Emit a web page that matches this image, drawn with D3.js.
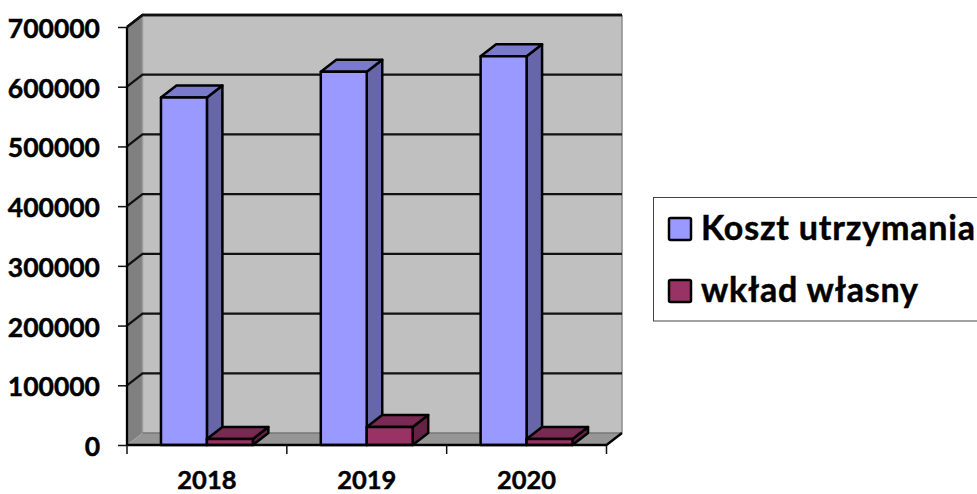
<!DOCTYPE html>
<html><head><meta charset="utf-8">
<script src="https://cdn.jsdelivr.net/npm/d3@7/dist/d3.min.js"></script>
<style>html,body{margin:0;padding:0;background:#fff;overflow:hidden}svg{display:block}text{font-family:Lato,"Open Sans",sans-serif;font-weight:700;fill:#000;stroke:#000;stroke-width:.45px}</style>
</head><body><svg id="c" width="977" height="494"></svg>
<script>
const years = ["2018", "2019", "2020"];
const seriesNames = ["Koszt utrzymania", "wkład własny"];
const koszt = [582000, 625000, 651000];
const wklad = [10000, 30000, 10000];
const yTicks = [0, 100000, 200000, 300000, 400000, 500000, 600000, 700000];
const frontColors = ["#9999FF", "#993366"];
const topColors = ["#7A7ACC", "#7A2952"];
const sideColors = ["#6666A8", "#662244"];

const svg = d3.select("#c");
const L = 127, R = 606.5, B = 445, T = 27, dx = 15.5, dy = -12, bdx = 15.5, bdy = -12;
const y = d3.scaleLinear().domain([0, 700000]).range([B, T]);
const x0 = d3.scaleBand().domain(years).range([L, R]).paddingInner(0.425).paddingOuter(0.2125);
const x1 = d3.scaleBand().domain([0, 1]).range([0, x0.bandwidth()]);
const poly = pts => pts.map(p => p.join(",")).join(" ");

// walls
const g = svg.append("g");
g.append("polygon").attr("points", poly([[L + dx, T + dy], [R + dx, T + dy], [R + dx, B + dy], [L + dx, B + dy]])).attr("fill", "#C0C0C0");
g.append("polygon").attr("points", poly([[L, T], [L + dx, T + dy], [L + dx, B + dy], [L, B]])).attr("fill", "#808080");
g.append("polygon").attr("points", poly([[L, B], [L + dx, B + dy], [R + dx, B + dy], [R, B]])).attr("fill", "#969696");
g.append("line").attr("x1", L + dx).attr("x2", L + dx).attr("y1", T + dy).attr("y2", B + dy).attr("stroke", "#9a9a9a").attr("stroke-width", 1.5);
g.append("line").attr("x1", R + dx).attr("x2", R + dx).attr("y1", T + dy).attr("y2", B + dy).attr("stroke", "#8c8c8c").attr("stroke-width", 1.5);
g.append("line").attr("x1", L + dx).attr("x2", R + dx).attr("y1", B + dy).attr("y2", B + dy).attr("stroke", "#777").attr("stroke-width", 1.5);

// gridlines
yTicks.filter(d => d > 0).forEach(t => {
  g.append("polyline").attr("fill", "none").attr("stroke", "#111").attr("stroke-width", 2.3)
    .attr("points", poly([[L, y(t)], [L + dx, y(t) + dy], [R + dx, y(t) + dy]]));
});

// bars
years.forEach((yr, i) => {
  [koszt, wklad].forEach((vals, s) => {
    const xa = x0(yr) + x1(s), xb = xa + x1.bandwidth(), yt = y(vals[i]);
    const bar = svg.append("g").attr("stroke", "#000").attr("stroke-width", 2.5).attr("stroke-linejoin", "round");
    bar.append("polygon").attr("points", poly([[xb, yt], [xb + bdx, yt + bdy], [xb + bdx, B + bdy], [xb, B]])).attr("fill", sideColors[s]);
    bar.append("polygon").attr("points", poly([[xa, yt], [xa + bdx, yt + bdy], [xb + bdx, yt + bdy], [xb, yt]])).attr("fill", topColors[s]);
    bar.append("rect").attr("x", xa).attr("y", yt).attr("width", xb - xa).attr("height", B - yt).attr("fill", frontColors[s]);
  });
});

// axes
const yAxis = d3.axisLeft(y).tickValues(yTicks).tickFormat(d3.format("d")).tickSize(9).tickPadding(18);
const ya = svg.append("g").attr("transform", `translate(${L},0)`).call(yAxis);
ya.select(".domain").remove();
ya.selectAll("line").attr("stroke", "#111").attr("stroke-width", 1.5);
ya.selectAll("text").attr("font-size", 26.5).attr("fill", "#000").attr("transform", "translate(0,2)").style("font-family", "Lato");
svg.append("line").attr("x1", L).attr("x2", L).attr("y1", T).attr("y2", B).attr("stroke", "#000").attr("stroke-width", 2.3);
svg.append("line").attr("x1", L).attr("x2", R).attr("y1", B).attr("y2", B).attr("stroke", "#000").attr("stroke-width", 2.5);
svg.append("line").attr("x1", R).attr("x2", R + dx).attr("y1", B).attr("y2", B + dy).attr("stroke", "#000").attr("stroke-width", 2.3);
svg.append("polyline").attr("fill", "none").attr("stroke", "#111").attr("stroke-width", 2.3)
  .attr("points", poly([[L, T], [L + dx, T + dy], [R + dx, T + dy]]));

// category ticks and labels
const step = x0.step();
d3.range(years.length + 1).forEach(i => {
  const tx = L + i * step;
  svg.append("line").attr("x1", tx).attr("x2", tx).attr("y1", B).attr("y2", B + 9).attr("stroke", "#111").attr("stroke-width", 1.5);
});
years.forEach(yr => {
  svg.append("text").attr("x", x0(yr) + x0.bandwidth() / 2).attr("y", 488.5).attr("text-anchor", "middle").attr("font-size", 25.5).text(yr);
});

// legend
svg.append("rect").attr("x", 653.5).attr("y", 197.5).attr("width", 340).attr("height", 123.5).attr("fill", "#fff").attr("stroke", "#444").attr("stroke-width", 1);
const lgY = [229, 291];
seriesNames.forEach((n, i) => {
  svg.append("rect").attr("x", 669).attr("y", lgY[i] - 11).attr("width", 22).attr("height", 22).attr("rx", 1.5)
    .attr("fill", frontColors[i]).attr("stroke", "#000").attr("stroke-width", 2.5);
  svg.append("text").attr("x", 701).attr("y", lgY[i] + 10.5).attr("font-size", 34).attr("letter-spacing", 0.8).text(n);
});
</script></body></html>
